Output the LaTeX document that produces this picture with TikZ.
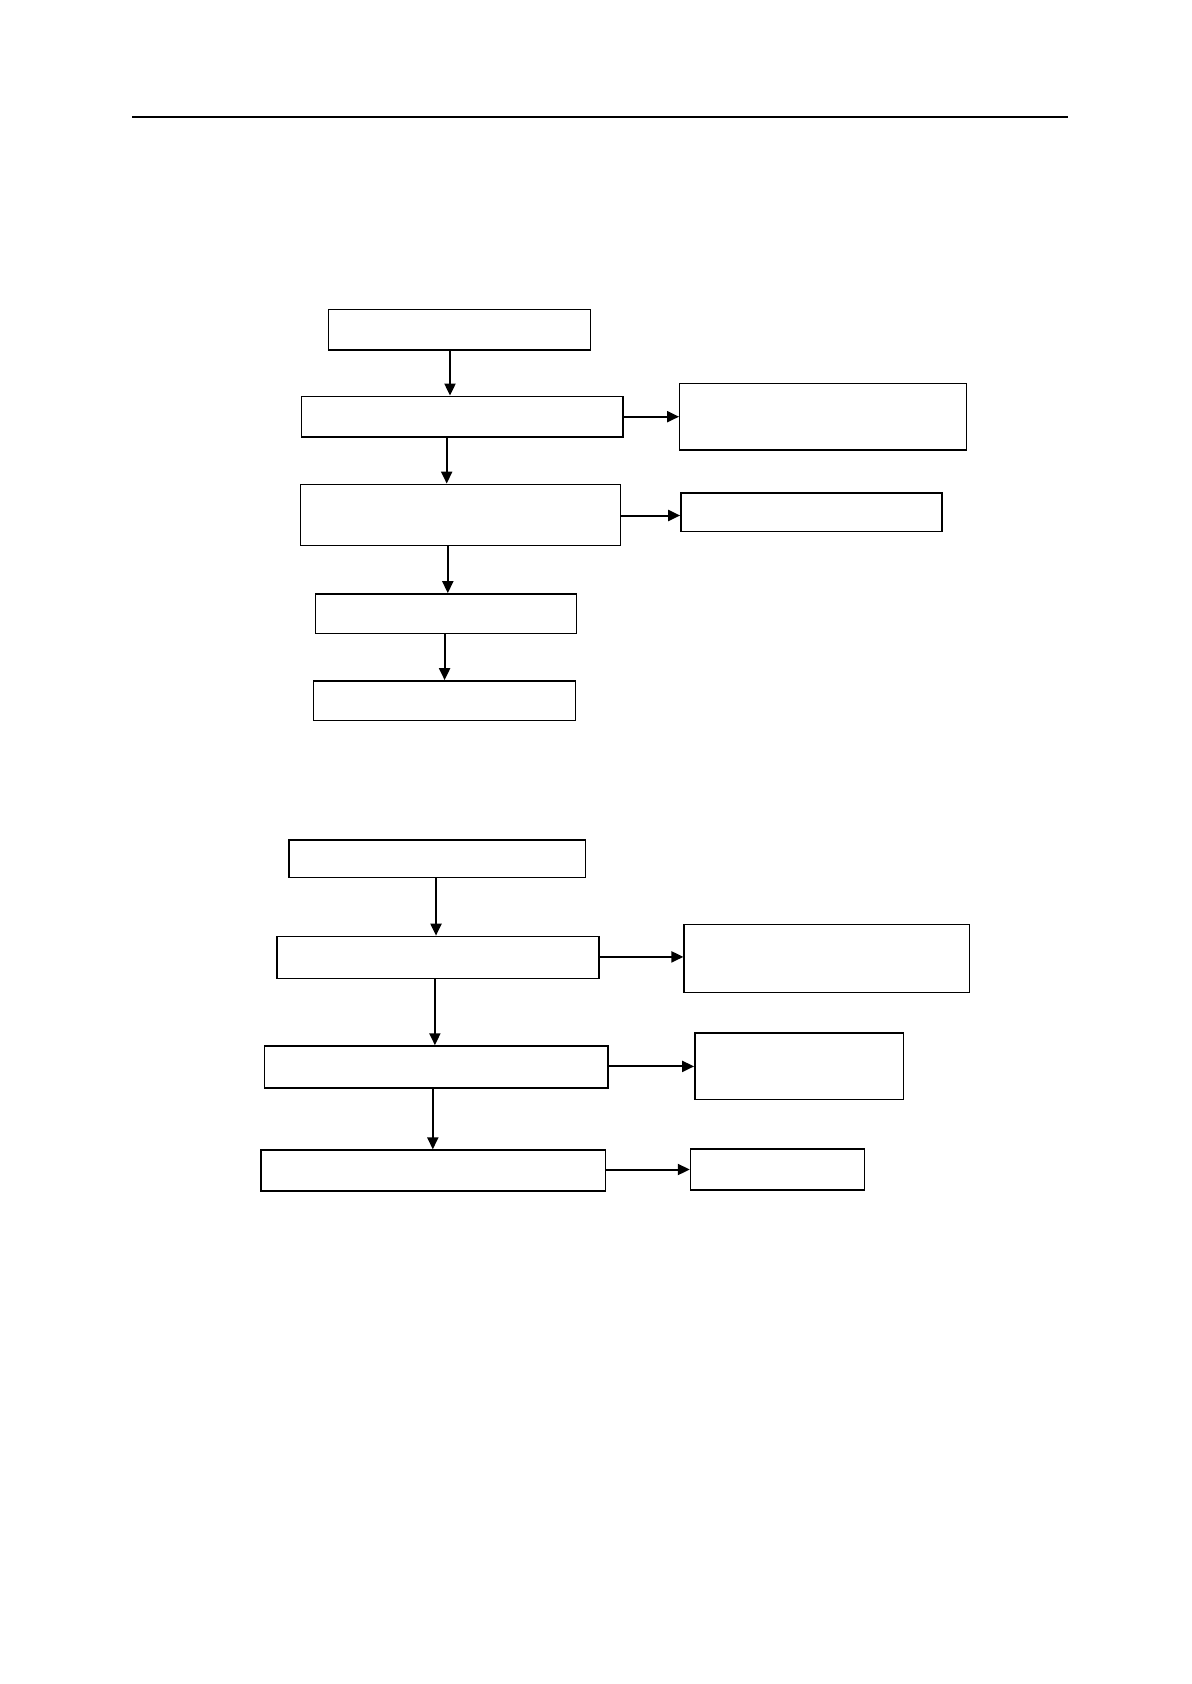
\documentclass[tikz,border=0pt]{standalone}
\usetikzlibrary{arrows.meta}
\begin{document}
\begin{tikzpicture}[x=0.5pt,y=-0.5pt,
  box/.style={draw=black,line width=0.7pt,inner sep=0pt,fill=white},
  arr/.style={line width=1pt,-{Triangle[length=6pt,width=5.5pt]}}]
\useasboundingbox (0,0) rectangle (1191,1684);
\draw[line width=1.3pt] (132,117) coordinate (rl) -- (1068,117) coordinate (rr);
% group 1
\node[box,minimum width=131pt,minimum height=20.4pt] (A1) at (459.6,329.7) {};
\node[box,minimum width=160.6pt,minimum height=20.4pt] (A2) at (462.35,416.7) {};
\node[box,minimum width=143.4pt,minimum height=33.3pt] (R1) at (823.15,416.7) {};
\node[box,minimum width=160pt,minimum height=30.6pt] (A3) at (460.7,514.9) {};
\node[box,minimum width=130.5pt,minimum height=19.4pt] (R2) at (811.35,512.25) {};
\node[box,minimum width=130.5pt,minimum height=19.9pt] (A4) at (446.2,613.75) {};
\node[box,minimum width=131pt,minimum height=19.9pt] (A5) at (444.6,700.75) {};
% group 2
\node[box,minimum width=148.2pt,minimum height=18.8pt] (B1) at (437.1,858.6) {};
\node[box,minimum width=161pt,minimum height=21pt] (B2) at (438.15,957.35) {};
\node[box,minimum width=142.8pt,minimum height=33.9pt] (S1) at (826.9,958.45) {};
\node[box,minimum width=171.8pt,minimum height=21pt] (B3) at (436,1066.95) {};
\node[box,minimum width=104.2pt,minimum height=33.3pt] (S2) at (799,1066.4) {};
\node[box,minimum width=172.4pt,minimum height=20.5pt] (B4) at (433.35,1170.55) {};
\node[box,minimum width=87pt,minimum height=20.4pt] (S3) at (777.5,1169.5) {};
% guide coordinates
\coordinate (x1) at (450,0);
\coordinate (x2) at (446.7,0);
\coordinate (x3) at (447.8,0);
\coordinate (x4) at (444.6,0);
\coordinate (y1) at (0,416.7);
\coordinate (y2) at (0,515.5);
\coordinate (x5) at (436,0);
\coordinate (x6) at (434.9,0);
\coordinate (x7) at (432.8,0);
\coordinate (y3) at (0,956.9);
\coordinate (y4) at (0,1066.4);
\coordinate (y5) at (0,1169.5);
% arrows group 1
\draw[arr] (A1.south -| x1) -- (A2.north -| x1);
\draw[arr] (A2.south -| x2) -- (A3.north -| x2);
\draw[arr] (A3.south -| x3) -- (A4.north -| x3);
\draw[arr] (A4.south -| x4) -- (A5.north -| x4);
\draw[arr] (A2.east |- y1) -- (R1.west |- y1);
\draw[arr] (A3.east |- y2) -- (R2.west |- y2);
% arrows group 2
\draw[arr] (B1.south -| x5) -- (B2.north -| x5);
\draw[arr] (B2.south -| x6) -- (B3.north -| x6);
\draw[arr] (B3.south -| x7) -- (B4.north -| x7);
\draw[arr] (B2.east |- y3) -- (S1.west |- y3);
\draw[arr] (B3.east |- y4) -- (S2.west |- y4);
\draw[arr] (B4.east |- y5) -- (S3.west |- y5);
\end{tikzpicture}
\end{document}
